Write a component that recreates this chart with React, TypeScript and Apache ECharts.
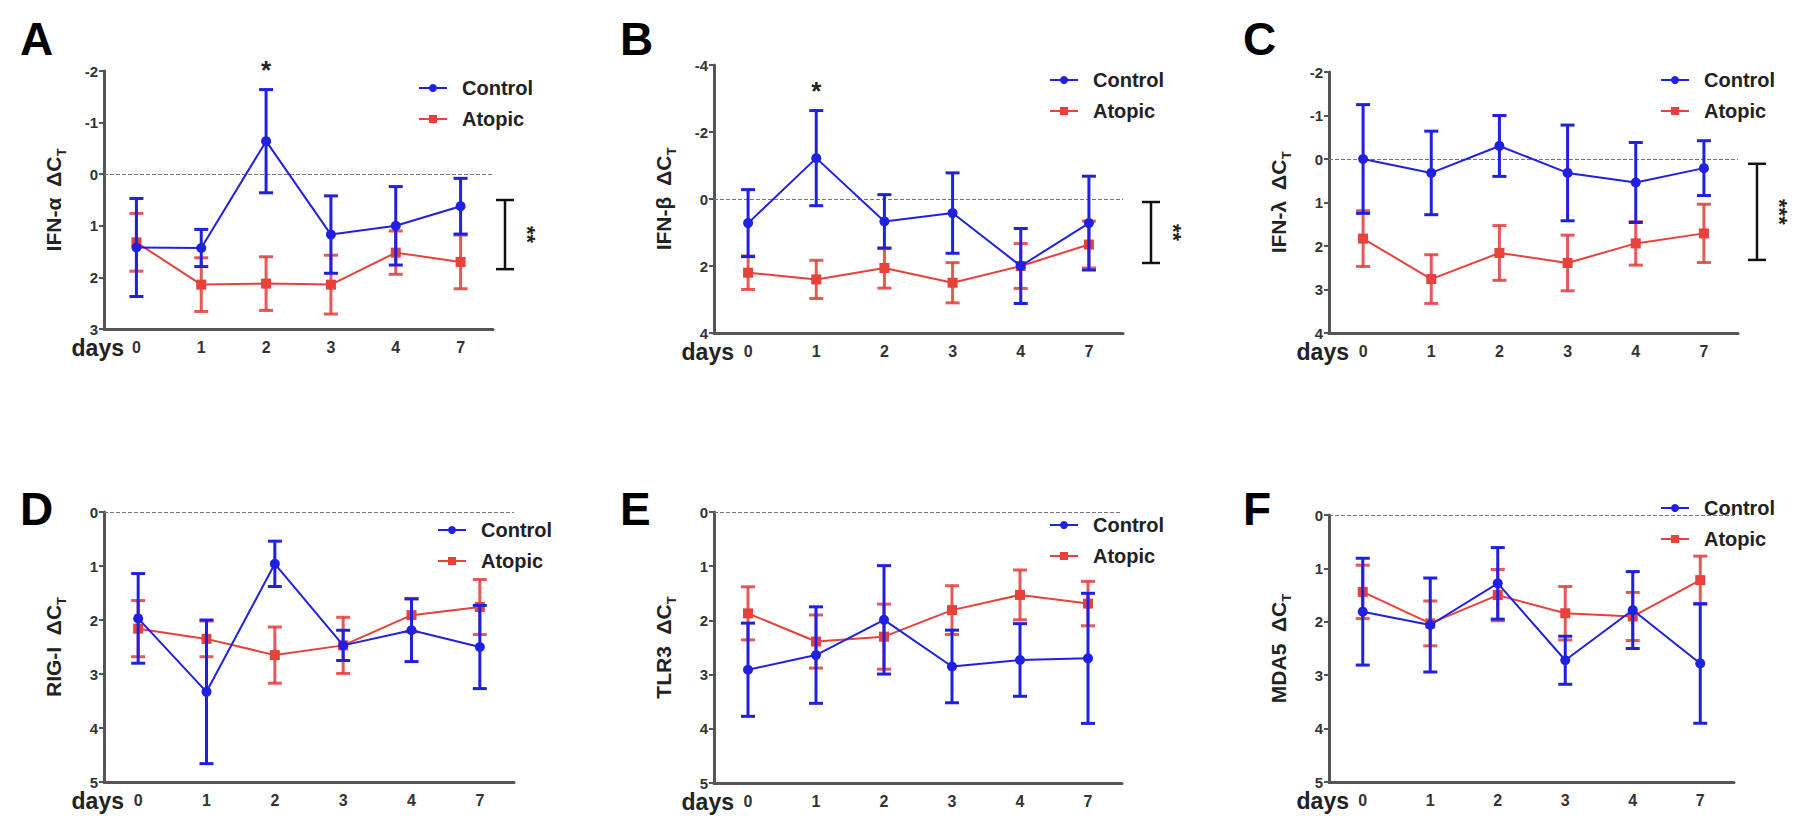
import React, { useEffect, useRef } from 'react';
import * as echarts from 'echarts';

// ---------- data ----------
const days = ['0', '1', '2', '3', '4', '7'];

// A: IFN-α
const aCtrlMean = [1.42, 1.43, -0.64, 1.17, 1.0, 0.62];
const aCtrlErr = [0.95, 0.36, 1.0, 0.75, 0.76, 0.54];
const aAtoMean = [1.32, 2.14, 2.12, 2.14, 1.52, 1.7];
const aAtoErr = [0.56, 0.52, 0.52, 0.57, 0.42, 0.52];

// B: IFN-β
const bCtrlMean = [0.72, -1.22, 0.67, 0.42, 2.0, 0.72];
const bCtrlErr = [1.0, 1.42, 0.8, 1.2, 1.12, 1.4];
const bAtoMean = [2.2, 2.4, 2.06, 2.5, 2.0, 1.36];
const bAtoErr = [0.5, 0.57, 0.6, 0.6, 0.67, 0.7];

// C: IFN-λ
const cCtrlMean = [0.0, 0.32, -0.3, 0.32, 0.54, 0.21];
const cCtrlErr = [1.25, 0.96, 0.7, 1.1, 0.92, 0.63];
const cAtoMean = [1.83, 2.76, 2.16, 2.39, 1.94, 1.71];
const cAtoErr = [0.64, 0.56, 0.63, 0.64, 0.5, 0.67];

// D: RIG-I
const dCtrlMean = [1.97, 3.33, 0.96, 2.47, 2.19, 2.5];
const dCtrlErr = [0.83, 1.33, 0.42, 0.28, 0.58, 0.77];
const dAtoMean = [2.16, 2.35, 2.65, 2.47, 1.91, 1.76];
const dAtoErr = [0.52, 0.33, 0.52, 0.52, 0.31, 0.51];

// E: TLR3
const eCtrlMean = [2.91, 2.64, 1.99, 2.85, 2.73, 2.7];
const eCtrlErr = [0.86, 0.89, 1.0, 0.67, 0.67, 1.2];
const eAtoMean = [1.87, 2.39, 2.3, 1.81, 1.53, 1.69];
const eAtoErr = [0.49, 0.49, 0.6, 0.45, 0.46, 0.41];

// F: MDA5
const fCtrlMean = [1.81, 2.06, 1.28, 2.72, 1.78, 2.78];
const fCtrlErr = [1.0, 0.88, 0.67, 0.45, 0.72, 1.12];
const fAtoMean = [1.44, 2.03, 1.5, 1.84, 1.9, 1.22];
const fAtoErr = [0.5, 0.42, 0.48, 0.5, 0.45, 0.45];

const panelLetters = ['A', 'B', 'C', 'D', 'E', 'F'];
const panelTitles = ['IFN-α  ΔC', 'IFN-β  ΔC', 'IFN-λ  ΔC', 'RIG-I  ΔC', 'TLR3  ΔC', 'MDA5  ΔC'];
const xAxisTitle = 'days';
const axisMin = [-2, -4, -2, 0, 0, 0];
const axisMax = [3, 4, 4, 5, 5, 5];
const axisStep = [1, 2, 1, 1, 1, 1];

// significance stars above a day (panel index, day index)
const starPanels = [0, 1];
const starDays = [2, 1];

// group-difference brackets (panel index, top, bottom, label)
const bracketPanels = [0, 1, 2];
const bracketTop = [0.5, 0.09, 0.11];
const bracketBottom = [1.84, 1.91, 2.32];
const bracketLabels = ['**', '**', '***'];

// ---------- layout / style ----------
const FONT = '"Liberation Sans", Arial, Helvetica, sans-serif';
const BLUE = '#2020e2';
const RED = '#e8403a';
const RED_BAR = 'rgba(226,60,58,0.85)';
const AXIS = '#555';

const grids = [
  { left: 104, top: 71, width: 389, height: 258 },
  { left: 714, top: 65, width: 409, height: 268 },
  { left: 1329, top: 72, width: 409, height: 261 },
  { left: 104, top: 512, width: 410, height: 270 },
  { left: 714, top: 512, width: 408, height: 271 },
  { left: 1329, top: 515, width: 405, height: 267 },
];
const letterPos = [[20, 16], [620, 16], [1243, 16], [20, 486], [620, 486], [1243, 486]];
const legendPos = [[418, 77], [1049, 69], [1660, 69], [437, 519], [1049, 514], [1660, 497]];
const bracketOffset = [12, 28, 19];

const panelData = [
  [aCtrlMean, aCtrlErr, aAtoMean, aAtoErr],
  [bCtrlMean, bCtrlErr, bAtoMean, bAtoErr],
  [cCtrlMean, cCtrlErr, cAtoMean, cAtoErr],
  [dCtrlMean, dCtrlErr, dAtoMean, dAtoErr],
  [eCtrlMean, eCtrlErr, eAtoMean, eAtoErr],
  [fCtrlMean, fCtrlErr, fAtoMean, fAtoErr],
];

const errRender = (color: string) => (params: any, api: any) => {
  const x = api.value(0);
  const m = api.value(1);
  const e = api.value(2);
  const top = api.coord([x, m - e]);
  const bot = api.coord([x, m + e]);
  const w = 7;
  const style = { stroke: color, lineWidth: 3 };
  return {
    type: 'group',
    children: [
      { type: 'line', shape: { x1: top[0], y1: top[1], x2: bot[0], y2: bot[1] }, style },
      { type: 'line', shape: { x1: top[0] - w, y1: top[1], x2: top[0] + w, y2: top[1] }, style },
      { type: 'line', shape: { x1: bot[0] - w, y1: bot[1], x2: bot[0] + w, y2: bot[1] }, style },
    ],
  };
};

function buildOption() {
  const series: any[] = [];
  panelData.forEach(([cm, ce, am, ae], i) => {
    series.push({
      type: 'custom',
      name: 'atopic-err-' + i,
      xAxisIndex: i,
      yAxisIndex: i,
      renderItem: errRender(RED_BAR),
      data: am.map((v, k) => [k, v, ae[k]]),
      z: 2,
    });
    series.push({
      type: 'line',
      name: 'Atopic',
      xAxisIndex: i,
      yAxisIndex: i,
      data: am,
      symbol: 'rect',
      symbolSize: 10,
      itemStyle: { color: RED },
      lineStyle: { color: RED, width: 2 },
      z: 3,
    });
    series.push({
      type: 'custom',
      name: 'control-err-' + i,
      xAxisIndex: i,
      yAxisIndex: i,
      renderItem: errRender(BLUE),
      data: cm.map((v, k) => [k, v, ce[k]]),
      z: 4,
    });
    series.push({
      type: 'line',
      name: 'Control',
      xAxisIndex: i,
      yAxisIndex: i,
      data: cm,
      symbol: 'circle',
      symbolSize: 10,
      itemStyle: { color: BLUE },
      lineStyle: { color: BLUE, width: 2 },
      z: 5,
      markLine: {
        silent: true,
        symbol: 'none',
        label: { show: false },
        lineStyle: { type: 'dashed', color: '#777', width: 1 },
        data: [{ yAxis: 0 }],
        z: 1,
      },
    });
  });

  starPanels.forEach((p, j) => {
    const d = starDays[j];
    const [cm, ce] = panelData[p];
    series.push({
      type: 'custom',
      name: 'star-' + j,
      xAxisIndex: p,
      yAxisIndex: p,
      data: [[d, cm[d] - ce[d]]],
      renderItem: (params: any, api: any) => {
        const pt = api.coord([api.value(0), api.value(1)]);
        return {
          type: 'text',
          x: pt[0],
          y: pt[1] - 7,
          style: {
            text: '*',
            textAlign: 'center',
            textVerticalAlign: 'bottom',
            fontSize: 26,
            fontWeight: 'bold',
            fontFamily: FONT,
            fill: '#222',
          },
        };
      },
      z: 6,
    });
  });

  bracketPanels.forEach((p, j) => {
    const off = bracketOffset[j];
    const label = bracketLabels[j];
    series.push({
      type: 'custom',
      name: 'bracket-' + j,
      xAxisIndex: p,
      yAxisIndex: p,
      data: [[5, bracketTop[j], bracketBottom[j]]],
      renderItem: (params: any, api: any) => {
        const cs = params.coordSys;
        const t = api.coord([5, api.value(1)])[1];
        const b = api.coord([5, api.value(2)])[1];
        const x = cs.x + cs.width + off;
        const w = 9;
        const style = { stroke: '#111', lineWidth: 2.5 };
        return {
          type: 'group',
          children: [
            { type: 'line', shape: { x1: x, y1: t, x2: x, y2: b }, style },
            { type: 'line', shape: { x1: x - w, y1: t, x2: x + w, y2: t }, style },
            { type: 'line', shape: { x1: x - w, y1: b, x2: x + w, y2: b }, style },
            {
              type: 'text',
              x: x + 22,
              y: (t + b) / 2,
              rotation: -Math.PI / 2,
              style: {
                text: label,
                textAlign: 'center',
                textVerticalAlign: 'middle',
                fontSize: 22,
                fontWeight: 'bold',
                fontFamily: FONT,
                fill: '#222',
              },
            },
          ],
        };
      },
      z: 6,
    });
  });

  const letterGraphics = panelLetters.map((L, i) => ({
    type: 'text',
    left: letterPos[i][0],
    top: letterPos[i][1],
    style: { text: L, fontSize: 46, fontWeight: 'bold', fontFamily: FONT, fill: '#000' },
  }));
  const daysGraphics = grids.map((g) => ({
    type: 'text',
    x: g.left + 20,
    y: g.top + g.height + 19,
    style: {
      text: xAxisTitle,
      textAlign: 'right',
      textVerticalAlign: 'middle',
      fontSize: 23,
      fontWeight: 'bold',
      fontFamily: FONT,
      fill: '#222',
    },
  }));

  return {
    animation: false,
    backgroundColor: '#ffffff',
    grid: grids.map((g) => ({ ...g, containLabel: false })),
    legend: legendPos.map(([l, t]) => ({
      left: l,
      top: t,
      orient: 'vertical',
      data: ['Control', 'Atopic'],
      selectedMode: false,
      itemWidth: 28,
      itemHeight: 10,
      itemGap: 9,
      padding: 0,
      textStyle: {
        fontFamily: FONT,
        fontSize: 20,
        fontWeight: 'bold',
        color: '#222',
        lineHeight: 22,
        padding: [0, 0, 0, 10],
      },
    })),
    xAxis: grids.map((_, i) => ({
      type: 'category',
      gridIndex: i,
      data: days,
      boundaryGap: true,
      axisLine: { onZero: false, lineStyle: { color: AXIS, width: 3 } },
      axisTick: { alignWithLabel: true, length: 6, lineStyle: { color: AXIS, width: 2 } },
      axisLabel: { color: '#333', fontSize: 16, fontWeight: 'bold', fontFamily: FONT, margin: 10 },
      splitLine: { show: false },
    })),
    yAxis: grids.map((_, i) => ({
      type: 'value',
      gridIndex: i,
      inverse: true,
      min: axisMin[i],
      max: axisMax[i],
      interval: axisStep[i],
      axisLine: { show: true, onZero: false, lineStyle: { color: AXIS, width: 3 } },
      axisTick: { show: true, length: 5, lineStyle: { color: AXIS, width: 2 } },
      axisLabel: { color: '#333', fontSize: 15, fontWeight: 'bold', fontFamily: FONT, margin: 6 },
      splitLine: { show: false },
      name: '{m|' + panelTitles[i] + '}{s|T}',
      nameLocation: 'middle',
      nameRotate: 90,
      nameGap: 36,
      nameTextStyle: {
        fontFamily: FONT,
        fontWeight: 'bold',
        color: '#222',
        rich: {
          m: { fontFamily: FONT, fontWeight: 'bold', fontSize: 21, color: '#222', lineHeight: 30, verticalAlign: 'middle' },
          s: { fontFamily: FONT, fontWeight: 'bold', fontSize: 13, color: '#222', lineHeight: 30, verticalAlign: 'bottom' },
        },
      },
    })),
    graphic: [...letterGraphics, ...daysGraphics],
    series,
  };
}

export default function App() {
  const ref = useRef<HTMLDivElement>(null);
  useEffect(() => {
    if (!ref.current) return;
    const chart = echarts.init(ref.current, undefined, { renderer: 'svg' });
    chart.setOption(buildOption() as any);
    return () => chart.dispose();
  }, []);
  return (
    <div
      ref={ref}
      style={{ position: 'fixed', left: 0, top: 0, width: 1800, height: 835, background: '#fff' }}
    />
  );
}
